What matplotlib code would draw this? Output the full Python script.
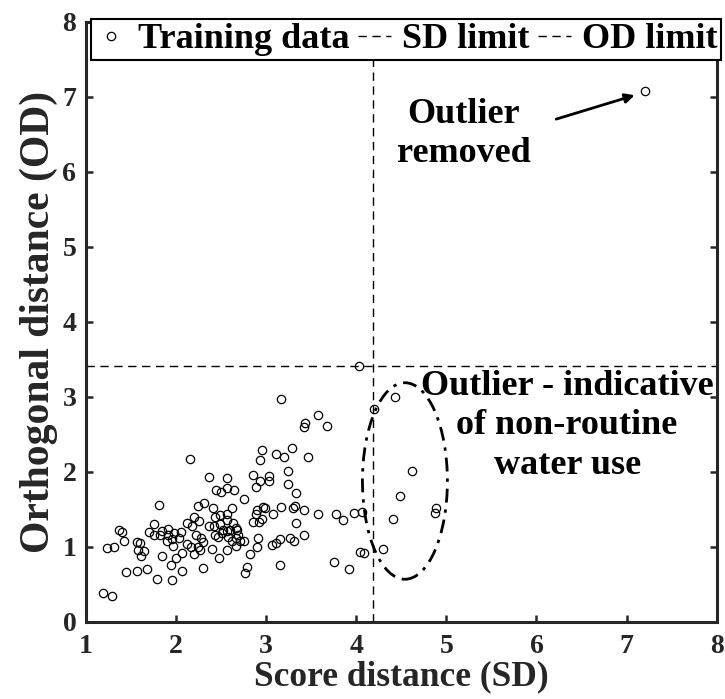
import matplotlib.pyplot as plt
from matplotlib.patches import Ellipse

plt.rcParams['font.family'] = 'Liberation Serif'
plt.rcParams['font.weight'] = 'bold'
plt.rcParams['axes.labelweight'] = 'bold'

# training data: score distance (SD) and orthogonal distance (OD)
sd = [3.16, 3.57, 3.43, 3.42, 2.95, 2.93, 3.11, 3.20, 3.29, 3.46, 2.16, 3.24,
      2.85, 2.93, 3.03, 3.03, 2.89, 3.24, 2.37, 2.57, 2.44, 2.50, 2.57, 2.64,
      3.33, 2.75, 2.24, 2.31, 1.81, 2.41, 2.62, 2.97, 2.99, 2.90, 2.89, 2.95,
      2.85, 2.92, 3.16, 3.08, 3.30, 3.32, 3.42, 3.57, 3.33, 2.20, 2.25, 2.12,
      2.18, 2.43, 2.49, 2.56, 2.37, 2.42, 2.49, 2.56, 2.63, 2.66, 2.68, 1.75,
      1.70, 1.84, 1.91, 1.75, 1.82, 1.91, 1.98, 2.05, 1.90, 1.96, 2.03, 1.97,
      1.37, 1.40, 1.42, 1.57, 1.60, 1.58, 1.64, 1.61, 1.23, 1.31, 2.12, 2.22,
      2.28, 2.30, 2.24, 2.17, 2.27, 2.20, 2.40, 2.46, 2.43, 2.51, 2.56, 2.69,
      2.67, 2.62, 2.66, 2.75, 2.56, 2.48, 2.30, 2.07, 2.00, 1.94, 1.84, 2.82,
      2.91, 2.90, 3.07, 3.11, 3.15, 3.26, 3.31, 3.42, 3.15, 1.44, 1.57, 1.68,
      1.79, 1.95, 2.07, 2.79, 2.76, 1.19, 1.29, 2.52, 2.60, 2.58, 2.71,
      4.03, 3.67, 4.20, 4.43, 4.62, 4.49, 4.41, 4.87, 4.89, 4.30, 4.04, 4.09,
      3.92, 3.75, 3.97, 4.06, 3.77, 3.85, 7.20]
od = [2.97, 2.76, 2.65, 2.59, 2.29, 2.16, 2.24, 2.19, 2.31, 2.19, 2.17, 2.01,
      1.96, 1.88, 1.94, 1.88, 1.79, 1.83, 1.93, 1.92, 1.76, 1.73, 1.78, 1.76,
      1.71, 1.64, 1.54, 1.58, 1.56, 1.51, 1.52, 1.53, 1.51, 1.49, 1.44, 1.37,
      1.33, 1.33, 1.53, 1.44, 1.52, 1.54, 1.49, 1.44, 1.32, 1.39, 1.34, 1.31,
      1.28, 1.39, 1.42, 1.44, 1.27, 1.27, 1.30, 1.35, 1.31, 1.25, 1.22, 1.30,
      1.19, 1.21, 1.23, 1.15, 1.16, 1.16, 1.18, 1.19, 1.07, 1.10, 1.11, 1.01,
      1.22, 1.19, 1.08, 1.06, 1.05, 0.96, 0.94, 0.88, 0.98, 0.99, 1.04, 1.15,
      1.12, 1.06, 1.00, 0.99, 0.96, 0.90, 0.97, 1.13, 1.15, 1.18, 1.21, 1.15,
      1.11, 1.07, 1.01, 1.08, 0.95, 0.85, 0.72, 0.92, 0.85, 0.75, 0.87, 0.90,
      1.12, 1.00, 1.02, 1.05, 1.10, 1.11, 1.08, 1.15, 0.75, 0.66, 0.68, 0.70,
      0.57, 0.55, 0.68, 0.73, 0.65, 0.38, 0.34, 1.22, 1.22, 1.13, 1.07,
      3.41, 2.61, 2.83, 3.00, 2.01, 1.68, 1.37, 1.45, 1.51, 0.97, 0.93, 0.91,
      0.70, 0.80, 1.45, 1.46, 1.44, 1.36, 7.07]

sd_limit = 4.19
od_limit = 3.41

fig = plt.figure(figsize=(7.25, 6.99), dpi=100)
ax = fig.add_axes([0.1186, 0.1106, 0.8699, 0.8584])

ax.plot(sd, od, 'o', mfc='none', mec='black', ms=6.0, mew=0.9,
        label='Training data', zorder=3)
ax.axvline(sd_limit, color='black', ls=(0, (6, 4)), lw=1.0, label='SD limit')
ax.axhline(od_limit, color='black', ls=(0, (6, 4)), lw=1.0, label='OD limit')

# ring round the points beyond the SD limit
ax.add_patch(Ellipse((4.54, 1.876), 0.943, 2.62, fill=False, color='black',
                     ls=(0, (5, 2.5, 1.2, 2.5)), lw=2.0))

ax.text(5.19, 6.50, 'Outlier\nremoved', fontsize=26, ha='center',
        va='center', linespacing=1.25)
ax.annotate('', xy=(7.12, 7.03), xytext=(6.19, 6.69),
            arrowprops=dict(arrowstyle='-|>', color='black', lw=2,
                            mutation_scale=14))
ax.text(6.34, 2.61, 'Outlier - indicative\nof non-routine\nwater use',
        fontsize=26, ha='center', va='center', linespacing=1.27)

ax.set_xlim(1, 8)
ax.set_ylim(0, 8)
ax.set_xticks(range(1, 9))
ax.set_yticks(range(0, 9))
ax.tick_params(direction='in', length=5, width=1.8, color='#262626',
               labelsize=20, labelcolor='#262626', top=True, right=True)
ax.tick_params(axis='x', pad=9)
ax.tick_params(axis='y', pad=7)
for s in ax.spines.values():
    s.set_linewidth(2.2)
    s.set_color('#262626')

ax.set_xlabel('Score distance (SD)', fontsize=25.5, color='#262626', labelpad=1)
ax.set_ylabel('Orthogonal distance (OD)', fontsize=30, color='#262626',
              labelpad=3)

leg = ax.legend(loc='upper center', bbox_to_anchor=(0.507, 1.004), ncol=3,
                fontsize=26, frameon=True, fancybox=False, framealpha=1,
                edgecolor='black', handlelength=0.9, handletextpad=0.3,
                columnspacing=0.25, borderpad=0.1, borderaxespad=0)
leg.get_frame().set_linewidth(1.5)

fig.savefig('out.png', dpi=100)
